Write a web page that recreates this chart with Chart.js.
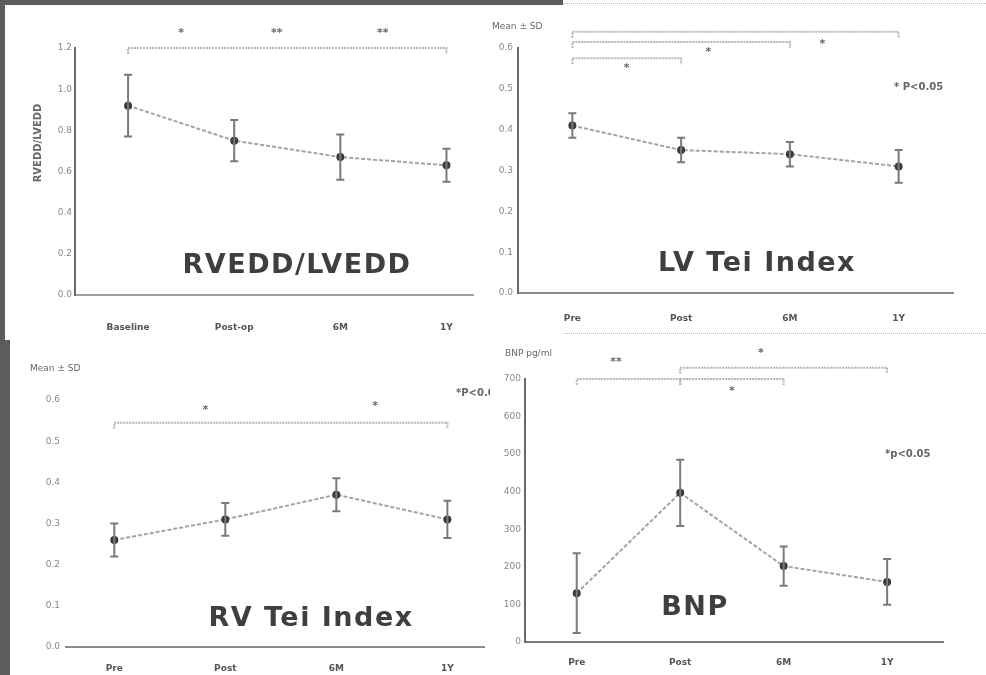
<!DOCTYPE html>
<html>
<head>
<meta charset="utf-8">
<script src="https://cdn.jsdelivr.net/npm/chart.js@4.4.1/dist/chart.umd.min.js"></script>
<style>
html, body { margin: 0; padding: 0; background: #fff; }
#wrap { position: relative; width: 986px; height: 675px; overflow: hidden; }
.panel { position: absolute; }
canvas { display: block; }
.band { position: absolute; background: #5c5c5c; }
.thin { position: absolute; border-top: 1px dotted #bdbdbd; height: 0; }
</style>
</head>
<body>
<div id="wrap">
    <div class="panel" style="left:0;top:0"><canvas id="c1" width="490" height="340"></canvas></div>
    <div class="panel" style="left:490px;top:0"><canvas id="c2" width="496" height="340"></canvas></div>
    <div class="panel" style="left:0;top:340px"><canvas id="c3" width="490" height="335"></canvas></div>
    <div class="panel" style="left:490px;top:340px"><canvas id="c4" width="496" height="335"></canvas></div>
    <div class="band" style="left:0;top:0;width:563px;height:5px"></div>
    <div class="band" style="left:0;top:0;width:5px;height:340px"></div>
    <div class="band" style="left:0;top:340px;width:10px;height:335px"></div>
    <div class="thin" style="left:563px;top:3px;width:423px"></div>
    <div class="thin" style="left:563px;top:333px;width:423px"></div>
</div>
<script>
// time points
var rvLvLabels = ['Baseline', 'Post-op', '6M', '1Y'];
var timeLabels = ['Pre', 'Post', '6M', '1Y'];

// RVEDD/LVEDD
var rvLvMean = [0.92, 0.75, 0.67, 0.63];
var rvLvErr = [0.15, 0.10, 0.11, 0.08];
var rvLvTicks = [0, 0.2, 0.4, 0.6, 0.8, 1.0, 1.2];

// LV Tei index
var lvTeiMean = [0.41, 0.35, 0.34, 0.31];
var lvTeiErr = [0.03, 0.03, 0.03, 0.04];
var lvTeiTicks = [0, 0.1, 0.2, 0.3, 0.4, 0.5, 0.6];

// RV Tei index
var rvTeiMean = [0.26, 0.31, 0.37, 0.31];
var rvTeiErr = [0.04, 0.04, 0.04, 0.045];
var rvTeiTicks = [0, 0.1, 0.2, 0.3, 0.4, 0.5, 0.6];

// BNP
var bnpMean = [130, 397, 202, 160];
var bnpErr = [106, 88, 52, 61];
var bnpTicks = [0, 100, 200, 300, 400, 500, 600, 700];

// significance brackets [from, to, y] and marks [x, y, text]
var rvLvBrackets = [[0, 3, 1.2]];
var rvLvStars = [[0.5, 1.27, '*'], [1.4, 1.27, '**'], [2.4, 1.27, '**']];
var lvTeiBrackets = [[0, 3, 0.64], [0, 2, 0.615], [0, 1, 0.575]];
var lvTeiStars = [[0.5, 0.55, '*'], [1.25, 0.59, '*'], [2.3, 0.61, '*']];
var rvTeiBrackets = [[0, 3, 0.545]];
var rvTeiStars = [[0.82, 0.575, '*'], [2.35, 0.585, '*']];
var bnpBrackets = [[0, 1, 700], [1, 2, 700], [1, 3, 730]];
var bnpStars = [[0.38, 745, '**'], [1.5, 668, '*'], [1.78, 770, '*']];

var overlay = {
    id: 'overlay',
    afterDatasetsDraw: function (chart) {
        var o = chart.options.plugins.overlay;
        var ctx = chart.ctx;
        var xs = chart.scales.x, ys = chart.scales.y;
        ctx.save();
        // error bars
        ctx.strokeStyle = '#7a7a7a';
        ctx.lineWidth = 2;
        o.mean.forEach(function (m, i) {
            var x = xs.getPixelForValue(i);
            var y1 = ys.getPixelForValue(m + o.err[i]);
            var y2 = ys.getPixelForValue(m - o.err[i]);
            ctx.beginPath();
            ctx.moveTo(x, y1); ctx.lineTo(x, y2);
            ctx.moveTo(x - 4, y1); ctx.lineTo(x + 4, y1);
            ctx.moveTo(x - 4, y2); ctx.lineTo(x + 4, y2);
            ctx.stroke();
        });
        // brackets
        ctx.strokeStyle = '#b5b5b5';
        ctx.lineWidth = 2;
        ctx.setLineDash([2, 1]);
        o.brackets.forEach(function (b) {
            var xa = xs.getPixelForValue(b[0]), xb = xs.getPixelForValue(b[1]);
            var y = ys.getPixelForValue(b[2]);
            ctx.beginPath();
            ctx.moveTo(xa, y + 6); ctx.lineTo(xa, y); ctx.lineTo(xb, y); ctx.lineTo(xb, y + 6);
            ctx.stroke();
        });
        ctx.setLineDash([]);
        ctx.fillStyle = '#666';
        ctx.font = 'bold 11px "DejaVu Sans"';
        ctx.textAlign = 'center';
        ctx.textBaseline = 'middle';
        o.stars.forEach(function (s) {
            ctx.fillText(s[2], xs.getPixelForValue(s[0]), ys.getPixelForValue(s[1]));
        });
        // big title
        ctx.fillStyle = '#3f3f3f';
        ctx.font = 'bold 27px "DejaVu Sans"';
        ctx.letterSpacing = '1.5px';
        ctx.fillText(o.title, o.titleX, o.titleY);
        ctx.letterSpacing = '0px';
        // small labels
        ctx.fillStyle = '#666';
        ctx.font = '9px "DejaVu Sans"';
        ctx.textAlign = 'left';
        if (o.unit) ctx.fillText(o.unit, o.unitX, o.unitY);
        if (o.note) {
            ctx.font = 'bold 10px "DejaVu Sans"';
            ctx.fillText(o.note, o.noteX, o.noteY);
        }
        if (o.yTitle) {
            ctx.translate(o.yTitleX, o.yTitleY);
            ctx.rotate(-Math.PI / 2);
            ctx.textAlign = 'center';
            ctx.font = 'bold 10px "DejaVu Sans"';
            ctx.fillText(o.yTitle, 0, 0);
        }
        ctx.restore();
    }
};

function makePanel(id, p) {
    var ctx = document.getElementById(id).getContext('2d');
    return new Chart(ctx, {
        type: 'line',
        data: {
            datasets: [{
                data: p.mean.map(function (v, i) { return { x: i, y: v }; }),
                borderColor: '#a4a4a4',
                borderWidth: 2,
                borderDash: [4, 2],
                pointRadius: 3,
                pointBackgroundColor: '#3a3a3a',
                pointBorderColor: '#3a3a3a'
            }]
        },
        options: {
            responsive: false,
            animation: false,
            layout: { padding: { top: p.top, right: p.right, left: 0, bottom: 0 } },
            plugins: {
                legend: { display: false },
                tooltip: { enabled: false },
                overlay: p.overlay
            },
            scales: {
                x: {
                    type: 'linear',
                    min: p.xmin,
                    max: p.xmax,
                    grid: { display: false, drawTicks: false },
                    border: { display: true, color: p.xBorder, width: 2, dash: [2, 1] },
                    afterBuildTicks: function (s) {
                        s.ticks = [0, 1, 2, 3].map(function (v) { return { value: v }; });
                    },
                    afterFit: function (s) { s.height = p.xHeight; },
                    ticks: {
                        padding: p.xPad,
                        color: '#555',
                        font: { family: 'DejaVu Sans', size: 9, weight: 'bold' },
                        maxRotation: 0,
                        autoSkip: false,
                        callback: function (v) { return p.labels[v]; }
                    }
                },
                y: {
                    min: p.ticks[0],
                    max: p.ticks[p.ticks.length - 1],
                    grid: { display: false, drawTicks: false },
                    border: { display: p.yBorderShow, color: '#6a6a6a', width: 2, dash: [2, 1] },
                    afterBuildTicks: function (s) {
                        s.ticks = p.ticks.map(function (v) { return { value: v }; });
                    },
                    afterFit: function (s) { s.width = p.left; },
                    ticks: {
                        padding: p.yPad,
                        color: '#888',
                        font: { family: 'DejaVu Sans', size: 9 },
                        callback: p.fmt
                    }
                }
            }
        },
        plugins: [overlay]
    });
}

makePanel('c1', {
    mean: rvLvMean, labels: rvLvLabels, ticks: rvLvTicks,
    left: 75, right: 17, top: 48, xHeight: 45, xPad: 27, yPad: 3,
    xmin: -0.5, xmax: 3.25, xBorder: '#a0a0a0', yBorderShow: true,
    fmt: function (v) { return v.toFixed(1); },
    overlay: {
        mean: rvLvMean, err: rvLvErr, brackets: rvLvBrackets, stars: rvLvStars,
        title: 'RVEDD/LVEDD', titleX: 297, titleY: 266,
        yTitle: 'RVEDD/LVEDD', yTitleX: 38, yTitleY: 143
    }
});

makePanel('c2', {
    mean: lvTeiMean, labels: timeLabels, ticks: lvTeiTicks,
    left: 28, right: 33, top: 48, xHeight: 47, xPad: 20, yPad: 5,
    xmin: -0.5, xmax: 3.5, xBorder: '#8a8a8a', yBorderShow: true,
    fmt: function (v) { return v.toFixed(1); },
    overlay: {
        mean: lvTeiMean, err: lvTeiErr, brackets: lvTeiBrackets, stars: lvTeiStars,
        title: 'LV Tei Index', titleX: 267, titleY: 264,
        unit: 'Mean ± SD', unitX: 2, unitY: 27,
        note: '* P<0.05', noteX: 404, noteY: 87
    }
});

makePanel('c3', {
    mean: rvTeiMean, labels: timeLabels, ticks: rvTeiTicks,
    left: 66, right: 0, top: 60, xHeight: 28, xPad: 16, yPad: 6,
    xmin: -0.435, xmax: 3.33, xBorder: '#8a8a8a', yBorderShow: false,
    fmt: function (v) { return v.toFixed(1); },
    overlay: {
        mean: rvTeiMean, err: rvTeiErr, brackets: rvTeiBrackets, stars: rvTeiStars,
        title: 'RV Tei Index', titleX: 311, titleY: 279,
        unit: 'Mean ± SD', unitX: 30, unitY: 29,
        note: '*P<0.05', noteX: 456, noteY: 53
    }
});

makePanel('c4', {
    mean: bnpMean, labels: timeLabels, ticks: bnpTicks,
    left: 35, right: 43, top: 39, xHeight: 33, xPad: 15, yPad: 4,
    xmin: -0.5, xmax: 3.54, xBorder: '#7a7a7a', yBorderShow: true,
    fmt: function (v) { return v; },
    overlay: {
        mean: bnpMean, err: bnpErr, brackets: bnpBrackets, stars: bnpStars,
        title: 'BNP', titleX: 205, titleY: 268,
        unit: 'BNP pg/ml', unitX: 15, unitY: 14,
        note: '*p<0.05', noteX: 395, noteY: 114
    }
});
</script>
</body>
</html>
